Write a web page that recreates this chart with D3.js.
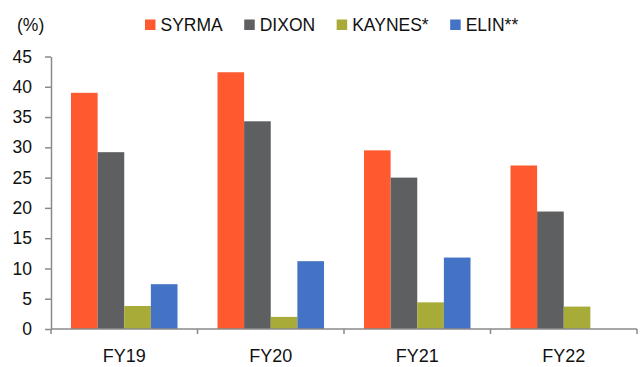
<!DOCTYPE html>
<html>
<head>
<meta charset="utf-8">
<script src="https://cdn.jsdelivr.net/npm/d3@7/dist/d3.min.js"></script>
<style>
  html, body { margin: 0; padding: 0; background: #fff; }
  svg { display: block; font-family: "Liberation Sans", Arial, sans-serif; }
</style>
</head>
<body>
<svg id="chart" width="644" height="367"></svg>
<script>
// Fiscal years along the x axis
const categories = ["FY19", "FY20", "FY21", "FY22"];
// Companies compared, in bar order within each year
const seriesNames = ["SYRMA", "DIXON", "KAYNES*", "ELIN**"];
const seriesColors = ["#FF5A2F", "#5E5F61", "#A8AB38", "#4472C4"];
// Values (%) per company, one per fiscal year (null = not reported)
const syrma  = [39.0, 42.4, 29.5, 27.0];
const dixon  = [29.2, 34.3, 25.0, 19.4];
const kaynes = [3.8, 2.0, 4.4, 3.7];
const elin   = [7.4, 11.2, 11.8, null];
const yTicks = [0, 5, 10, 15, 20, 25, 30, 35, 40, 45];

const seriesValues = [syrma, dixon, kaynes, elin];

const svg = d3.select("#chart");
const plotLeft = 51, plotRight = 637, plotTop = 56.5, plotBottom = 329;
const axisColor = "#8A8A8A";

const x = d3.scaleBand().domain(categories).range([plotLeft, plotRight]).paddingInner(0).paddingOuter(0);
const inner = d3.scaleBand().domain(seriesNames).range([20, x.bandwidth() - 20]).padding(0);
const y = d3.scaleLinear().domain([0, 45]).range([plotBottom, plotTop]);

// Bars
const groups = svg.append("g").selectAll("g")
  .data(categories)
  .join("g")
  .attr("transform", d => `translate(${x(d)},0)`);

groups.selectAll("rect")
  .data((c, i) => seriesNames.map((s, k) => ({ s, k, v: seriesValues[k][i] })).filter(d => d.v != null))
  .join("rect")
  .attr("x", d => inner(d.s))
  .attr("width", inner.bandwidth())
  .attr("y", d => y(d.v))
  .attr("height", d => y(0) - y(d.v))
  .attr("fill", d => seriesColors[d.k]);

// Y axis
const yAxis = svg.append("g")
  .attr("transform", `translate(${plotLeft},0)`)
  .call(d3.axisLeft(y).tickValues(yTicks).tickSize(6).tickPadding(13).tickSizeOuter(0));
yAxis.select(".domain").attr("stroke", axisColor).attr("stroke-width", 1.5);
yAxis.selectAll(".tick line").attr("stroke", axisColor).attr("stroke-width", 1.5);
yAxis.selectAll(".tick text")
  .attr("fill", "#111")
  .style("font-size", "17.5px")
  .style("font-family", "'Liberation Sans', Arial, sans-serif");

// X axis with boundary ticks between categories
const xAxisG = svg.append("g").attr("transform", `translate(0,${plotBottom})`);
xAxisG.append("line")
  .attr("x1", plotLeft).attr("x2", plotRight)
  .attr("stroke", axisColor).attr("stroke-width", 1.5);
const bounds = categories.map(c => x(c)).concat([x(categories[categories.length - 1]) + x.bandwidth()]);
xAxisG.selectAll("line.tk")
  .data(bounds)
  .join("line")
  .attr("class", "tk")
  .attr("x1", d => d).attr("x2", d => d)
  .attr("y1", 0).attr("y2", 5)
  .attr("stroke", axisColor).attr("stroke-width", 1.5);
xAxisG.selectAll("text")
  .data(categories)
  .join("text")
  .attr("x", d => x(d) + x.bandwidth() / 2)
  .attr("y", 33)
  .attr("text-anchor", "middle")
  .attr("fill", "#111")
  .style("font-size", "18px")
  .text(d => d);

// Unit label
svg.append("text")
  .attr("x", 17).attr("y", 31)
  .attr("fill", "#111")
  .style("font-size", "17.5px")
  .text("(%)");

// Legend
const legend = svg.append("g");
let lx = 145;
seriesNames.forEach((name, k) => {
  legend.append("rect")
    .attr("x", lx).attr("y", 19.5)
    .attr("width", 10.5).attr("height", 10.5)
    .attr("fill", seriesColors[k]);
  const t = legend.append("text")
    .attr("x", lx + 15.5).attr("y", 31)
    .attr("fill", "#111")
    .style("font-size", "17.5px")
    .text(name);
  lx += 15.5 + t.node().getComputedTextLength() + 21.5;
});
</script>
</body>
</html>
